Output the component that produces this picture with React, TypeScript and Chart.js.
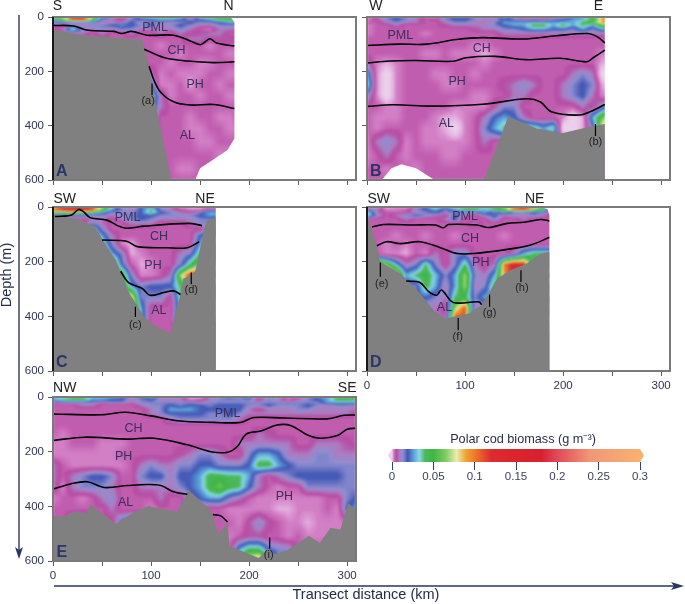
import React, { useEffect, useRef } from "react";
import { Chart, registerables } from "chart.js";
Chart.register(...registerables);

const FONT = '"Liberation Sans", Arial, sans-serif';
const depthRows = [0, 10, 20, 30, 45, 60, 80, 105, 135, 170, 210, 250, 290, 330, 370, 410, 460, 510, 560, 600];
const kmEvery10 = (n: number) => Array.from({ length: n }, (_, i) => i * 10);

// biomass in mg m-3, one row per depth, one column per 10 km
const fieldA = [
  [60,70,130,130,70,30,14,4,14,27,40,45,45,40,4,40,45,60,60,60],
  [27,60,100,110,60,14,9,4,14,20,20,27,27,20,14,20,27,40,45,45],
  [14,20,14,14,14,9,9,9,20,9,14,14,9,14,20,14,14,20,27,27],
  [9,4,9,9,14,14,20,27,20,14,20,9,14,20,14,9,9,14,14,14],
  [4,9,40,14,9,14,9,14,14,9,9,9,9,14,9,4,2,9,9,9],
  [4,4,9,9,4,9,4,4,9,4,4,9,4,9,4,6,9,9,4,4],
  [4,4,4,4,4,4,4,4,4,4,4,4,4,4,9,9,6,6,6,4],
  [4,4,4,4,4,4,4,4,4,4,4,2,4,4,4,4,2,4,4,4],
  [4,4,4,4,4,4,4,4,4,4,4,4,4,2,4,4,4,4,2,2],
  [4,4,4,4,4,4,4,4,4,4,4,4,2,4,4,2,2,4,4,4],
  [4,4,4,4,4,4,4,4,4,14,9,2,4,2,2,2,4,4,2,2],
  [4,4,4,4,4,4,4,4,4,120,20,2,2,4,1,4,4,2,4,4],
  [4,4,4,4,4,4,4,4,4,90,40,9,2,4,4,2,4,4,2,2],
  [4,4,4,4,4,4,4,4,4,40,27,9,4,4,4,4,4,4,4,4],
  [4,4,4,4,4,4,4,4,4,20,20,4,4,4,2,4,4,2,2,4],
  [4,4,4,4,4,4,4,4,4,14,9,4,4,4,2,2,4,4,2,2],
  [4,4,4,4,4,4,4,4,4,9,9,4,4,4,4,2,2,4,4,4],
  [4,4,4,4,4,4,4,4,4,9,4,4,4,4,4,4,4,2,2,2],
  [4,4,4,4,4,4,4,4,4,4,4,4,4,2,2,4,4,4,4,4],
  [4,4,4,4,4,4,4,4,4,4,4,4,4,4,4,4,4,4,4,4],
];
const fieldB = [
  [2,6,14,20,14,9,4,2,14,20,20,14,9,14,27,14,1,1,2,9,9,20,27,60,90,90],
  [2,6,14,20,14,9,4,6,14,20,20,14,9,9,20,14,9,14,9,14,20,27,27,40,90,90],
  [4,4,9,14,9,9,4,4,9,14,14,9,9,14,27,27,27,27,27,27,27,27,40,60,90,90],
  [2,4,4,9,4,4,4,4,6,9,9,9,9,14,20,27,27,45,45,27,45,27,40,27,60,60],
  [2,4,4,4,4,4,4,4,4,4,4,6,9,9,14,14,20,27,27,20,20,14,27,14,27,27],
  [2,4,4,4,4,4,2,4,4,4,4,4,4,4,9,9,9,9,9,9,9,9,9,9,9,9],
  [4,4,4,4,4,4,4,4,4,4,4,4,4,4,4,4,4,4,4,4,4,4,4,4,4,4],
  [4,4,4,4,4,4,4,4,4,4,4,2,2,4,4,4,4,4,4,4,4,4,4,4,4,4],
  [4,4,4,4,4,4,2,2,4,2,2,2,1,2,4,4,4,4,4,4,4,4,4,4,2,2],
  [9,2,1,2,4,4,4,4,4,4,4,4,2,4,4,4,4,4,4,4,4,4,4,4,1,1],
  [27,2,0,2,4,4,4,2,2,4,4,2,4,4,4,4,4,4,4,4,4,9,14,9,0,0],
  [40,2,0,2,4,4,4,4,2,2,4,4,4,4,6,9,14,9,4,4,9,14,20,14,1,1],
  [14,2,0,2,4,4,4,4,4,4,4,2,2,4,4,9,9,4,4,4,9,14,20,9,2,2],
  [4,4,2,2,4,4,4,4,4,2,2,2,2,6,14,14,4,4,4,4,4,4,9,4,14,27],
  [4,2,2,2,4,4,4,2,1,1,2,4,9,20,27,20,9,4,4,4,2,0,1,27,60,90],
  [4,2,4,4,4,4,2,2,1,0,2,4,14,27,40,40,40,40,27,40,0,0,1,14,90,90],
  [2,9,14,9,2,4,2,2,2,2,2,4,9,4,4,4,4,4,4,4,4,4,4,4,4,4],
  [2,4,9,4,2,4,4,4,2,2,4,4,4,4,4,4,4,4,4,4,4,4,4,4,4,4],
  [4,4,2,4,4,2,4,4,4,4,4,4,4,4,4,4,4,4,4,4,4,4,4,4,4,4],
  [4,4,4,4,4,4,4,4,4,4,4,4,4,4,4,4,4,4,4,4,4,4,4,4,4,4],
];
const fieldC = [
  [90,120,130,130,120,70,30,14,9,20,20,14,9,2,1,1,2,2],
  [100,120,125,125,110,60,27,14,9,20,40,14,9,4,2,2,9,9],
  [60,60,70,60,50,27,14,14,14,20,40,20,14,9,6,14,27,27],
  [20,20,20,20,14,14,9,14,14,20,20,14,14,14,14,20,27,27],
  [4,4,4,4,9,9,4,9,14,20,14,9,9,9,9,14,14,14],
  [4,4,4,4,14,9,4,4,9,9,9,4,4,4,9,14,14,14],
  [4,4,4,4,40,14,4,4,4,4,4,4,4,4,4,4,14,14],
  [4,4,4,4,40,27,9,4,4,4,4,4,4,4,4,20,27,27],
  [60,60,60,60,60,40,14,2,1,4,4,4,4,4,4,27,40,40],
  [60,60,60,60,60,60,27,14,1,2,4,4,4,9,14,40,40,40],
  [70,70,70,70,70,70,70,20,4,1,2,4,4,14,40,70,70,70],
  [70,70,70,70,70,70,70,60,14,2,2,4,9,70,120,120,100,100],
  [60,60,60,60,60,60,60,60,27,14,20,20,20,40,60,60,60,60],
  [90,90,90,90,90,90,90,90,90,14,14,14,4,40,40,40,40,40],
  [100,100,100,100,100,100,100,100,100,27,4,4,4,30,30,30,30,30],
  [27,27,27,27,27,27,27,27,27,27,4,4,4,40,40,40,40,40],
  [4,4,4,4,4,4,4,4,4,4,4,4,4,4,4,4,4,4],
  [4,4,4,4,4,4,4,4,4,4,4,4,4,4,4,4,4,4],
  [4,4,4,4,4,4,4,4,4,4,4,4,4,4,4,4,4,4],
  [4,4,4,4,4,4,4,4,4,4,4,4,4,4,4,4,4,4],
];
const fieldD = [
  [4,14,1,2,1,9,20,40,27,40,40,45,40,45,60,100,130,110,50,2],
  [14,9,2,2,4,14,20,27,14,27,40,40,27,40,60,100,110,60,40,2],
  [40,9,4,4,4,9,14,20,14,14,14,14,27,14,27,14,14,20,14,4],
  [40,14,4,9,14,20,14,9,4,20,9,4,14,20,9,14,9,14,9,4],
  [4,4,4,4,9,4,4,4,9,20,4,4,4,14,4,4,9,4,4,4],
  [4,4,4,4,4,4,4,4,4,4,4,9,4,4,4,4,4,4,4,4],
  [4,4,4,4,4,4,4,4,4,4,4,4,4,4,4,4,4,4,4,4],
  [4,4,4,2,4,4,2,4,4,2,4,4,4,4,2,4,4,4,4,4],
  [4,4,2,4,2,4,4,4,4,4,4,4,4,4,4,4,4,4,4,4],
  [4,4,2,2,1,4,2,9,4,14,14,4,4,4,4,9,27,40,40,40],
  [4,90,60,27,9,14,40,14,4,14,40,9,4,9,100,130,120,40,40,40],
  [120,120,120,90,27,40,50,30,14,27,70,14,9,27,90,130,120,120,120,120],
  [14,14,14,14,14,14,45,27,9,27,70,9,14,45,45,45,45,45,45,45],
  [20,20,20,20,20,20,20,14,9,40,45,14,27,27,27,27,27,27,27,27],
  [9,9,9,9,9,9,9,9,4,70,110,9,9,9,9,9,9,9,9,9],
  [9,9,9,9,9,9,9,9,9,120,110,1,1,1,1,1,1,1,1,1],
  [4,4,4,4,4,4,4,4,4,4,4,4,4,4,4,4,4,4,4,4],
  [4,4,4,4,4,4,4,4,4,4,4,4,4,4,4,4,4,4,4,4],
  [4,4,4,4,4,4,4,4,4,4,4,4,4,4,4,4,4,4,4,4],
  [4,4,4,4,4,4,4,4,4,4,4,4,4,4,4,4,4,4,4,4],
];
const fieldE = [
  [27,27,40,40,27,27,27,20,14,20,27,14,9,9,1,1,9,14,20,14,27,4,14,14,4,4,14,20,27,40,40,40],
  [27,40,45,45,27,27,20,20,9,14,20,9,9,9,2,4,9,14,14,14,14,4,14,9,2,9,14,20,27,45,45,40],
  [9,14,14,14,14,9,14,14,9,14,14,14,14,14,14,9,14,14,14,14,14,14,14,14,14,14,14,14,27,27,27,27],
  [4,4,4,9,9,4,4,4,4,9,14,14,20,14,20,20,14,20,20,20,14,14,20,14,14,14,20,14,9,14,14,9],
  [4,4,4,4,4,4,4,4,4,4,9,14,27,27,27,20,20,20,20,20,9,4,9,9,9,14,14,9,9,9,9,9],
  [4,4,4,4,4,4,4,4,4,4,9,14,20,20,20,20,14,14,20,14,9,9,9,9,9,9,9,9,9,9,9,4],
  [4,4,4,4,4,4,4,4,4,4,4,4,9,14,14,14,14,14,14,9,4,4,4,4,4,4,4,4,4,4,4,4],
  [4,4,4,4,4,4,4,4,4,4,4,4,4,4,4,4,4,4,4,4,4,4,4,4,4,4,4,4,4,4,4,4],
  [4,2,4,4,4,4,4,4,4,4,4,4,4,4,4,4,4,4,4,4,4,9,6,4,4,4,4,4,4,4,4,4],
  [2,2,4,4,4,2,2,2,4,4,4,4,4,4,4,4,4,4,4,9,9,9,9,9,9,4,4,9,9,9,6,4],
  [2,2,2,2,2,2,2,4,4,4,4,4,4,6,9,14,14,9,4,4,14,27,27,20,9,9,9,14,14,9,9,9],
  [9,4,2,2,2,2,2,2,4,9,14,9,9,14,14,20,20,14,14,14,20,45,45,27,20,14,14,14,14,14,14,14],
  [9,4,9,14,20,20,14,4,4,14,20,20,9,20,20,27,45,45,40,40,27,9,4,9,14,20,20,20,20,20,14,14],
  [9,2,9,14,14,14,9,4,4,9,9,9,9,14,20,27,45,60,45,40,20,9,4,2,4,4,14,14,14,14,14,14],
  [2,4,4,2,4,9,14,4,4,4,4,9,4,4,14,20,27,27,14,9,4,2,2,2,2,2,2,2,4,4,14,20],
  [4,4,4,4,4,4,9,4,4,4,2,4,4,4,4,4,4,4,2,2,2,2,2,1,1,2,2,2,4,2,20,27],
  [4,4,14,20,4,4,4,20,27,14,4,4,4,4,2,4,4,4,4,2,6,14,6,4,2,2,1,2,2,2,2,2],
  [4,4,4,4,4,4,4,4,4,4,4,4,4,4,4,4,4,4,2,4,6,6,4,4,2,4,2,2,2,2,2,2],
  [4,4,4,4,4,4,4,4,4,4,4,4,4,4,4,4,4,4,4,27,45,45,20,14,14,4,4,4,4,4,4,4],
  [4,4,4,4,4,4,4,4,4,4,4,4,4,4,4,4,4,4,4,40,90,110,60,14,14,4,4,4,4,4,4,4],
];

// sea floor (grey) outlines, km / m
const floorA = [[0,46],[31,67],[91,83],[96,147],[106,343],[121,600],[0,600]];
const floorB = [[119,600],[144,367],[173,410],[199,428],[229,402],[242.5,394],[242.5,600]];
const floorC = [[0,27],[28,48],[43,72],[52,127],[64,194],[77,310],[93,402],[106,439],[120,461],[125,384],[130,323],[133,262],[140,250],[145,235],[148,190],[150,150],[155,70],[157,48],[166,42],[166,600],[0,600]];
const floorD = [[0,29],[10,139],[13.6,200],[34,243],[51,304],[68,378],[80,408],[104,390],[117,359],[133,262],[146,231],[163,207],[177,170],[186,164],[186,600],[0,600]];
const floorE = [[0,436],[11,435],[23,418],[34,426],[38,393],[49,422],[64,465],[83,420],[98,398],[102,402],[127,420],[138,340],[161,414],[169,500],[178,457],[180,545],[210,589],[219,555],[226,575],[239,561],[261,508],[272,534],[283,478],[293,485],[301,389],[309.5,414],[309.5,600],[0,600]];
// unsampled (white) outlines
const voidA = [[181,0],[185,18],[185,447],[178,490],[164,524],[150,557],[145,600],[310,600],[310,0]];
const voidB1 = [[242.5,0],[242.5,600],[310,600],[310,0]];
const voidB2 = [[15,600],[25,557],[35,542],[50,557],[69,600]];
const voidC = [[166,0],[166,600],[310,600],[310,0]];
const voidD = [[178.5,0],[184,8],[186,29],[186,600],[310,600],[310,0]];

// water-mass boundaries
const linesA = [
  [[0,31],[21,33],[36,49],[62,53],[70,61],[80,53],[96,67],[123,67],[140,88],[150,102],[155,92],[160,80],[167,96],[185,107]],
  [[93,119],[113,149],[137,162],[164,168],[185,165]],
  [[98,181],[103,233],[110,278],[123,312],[140,324],[164,322],[185,337]],
];
const linesB = [
  [[0,105],[33,100],[61,100],[91,83],[118,76],[159,81],[193,69],[225,61],[235,73],[242.5,95]],
  [[0,169],[23,162],[50,160],[88,163],[101,150],[131,145],[162,157],[197,152],[224,165],[231,149],[242.5,122]],
  [[0,329],[27,323],[67,328],[118,321],[163,301],[177,313],[188,349],[217,361],[231,343],[242.5,322]],
];
const linesC = [
  [[2,35],[19,29],[26,9],[31,17],[38,39],[55,48],[67,70],[75,78],[93,70],[138,60],[152,68]],
  [[50,121],[75,125],[86,145],[116,149],[137,149],[149,127]],
  [[69,235],[77,277],[91,298],[99,323],[113,313],[123,307],[130,320]],
];
const linesD = [
  [[5,73],[17,64],[48,66],[70,66],[78,76],[83,64],[112,66],[124,75],[143,60],[160,56],[177,46],[186,51]],
  [[10,142],[20,127],[34,134],[54,127],[75,149],[92,170],[109,170],[143,155],[167,139],[186,111]],
  [[40,271],[54,276],[63,310],[71,323],[76,304],[88,349],[114,347],[117,357]],
];
const linesE = [
  [[0,62],[49,65],[74,56],[100,69],[127,87],[164,93],[191,93],[205,75],[236,77],[280,80],[297,67],[309.5,66]],
  [[0,159],[32,147],[76,154],[103,151],[137,175],[161,200],[178,202],[188,181],[197,136],[212,124],[229,102],[243,105],[259,138],[273,151],[290,141],[300,118],[309.5,114]],
  [[0,337],[18,318],[35,310],[52,331],[76,324],[96,320],[110,324],[123,347],[137,356]],
  [[163,430],[171,435],[178,457]],
];
// leaders of the (a)...(i) notes
const leadersA = [[[101,245],[101,288]]];
const leadersB = [[[233,394],[233,438]]];
const leadersC = [[[84,365],[84,402]],[[141,240],[141,283]]];
const leadersD = [[[13.6,203],[13.6,255]],[[93,406],[93,451]],[[125,320],[125,365]],[[157,231],[157,274]]];
const leadersE = [[[221,514],[221,555]]];

type Txt = [string, number, number];
const massA: Txt[] = [["PML",104,40],["CH",126,122],["PH",145,247],["AL",137,435]];
const massB: Txt[] = [["PML",34,69],["CH",117,116],["PH",92,239],["AL",81,392]];
const massC: Txt[] = [["PML",76,38],["CH",108,109],["PH",102,213],["AL",108,378]];
const massD: Txt[] = [["PML",100,35],["CH",105,115],["PH",116,203],["AL",79,368]];
const massE: Txt[] = [["PML",178,59],["CH",82,116],["PH",72,218],["AL",74,386],["PH",236,365]];
const notesA: Txt[] = [["(a)",97,309]];
const notesB: Txt[] = [["(b)",233,460]];
const notesC: Txt[] = [["(c)",84,430],["(d)",141,305]];
const notesD: Txt[] = [["(e)",15,282],["(f)",92.5,475],["(g)",125,386],["(h)",158,298]];
const notesE: Txt[] = [["(i)",220,577]];

const legendTicks = [0, 0.05, 0.1, 0.15, 0.2, 0.25, 0.3];
const colourStops: [number, string][] = [
  [0,"#ecd0ea"],[1,"#e2aede"],[2,"#d27fc6"],[5,"#b84ca4"],[7,"#b25cac"],[9,"#ac7cc2"],[13,"#8e8ed0"],[19,"#4256b6"],
  [26,"#5aa0d8"],[33,"#88d8e4"],[40,"#4cb85c"],[50,"#3fb544"],[65,"#80cc60"],[78,"#e8eeb0"],[90,"#f0a030"],
  [100,"#ee7a2a"],[120,"#dd2a30"],[180,"#d91f2c"],[200,"#e04a5a"],[240,"#f09878"],[300,"#fab070"],
];

const hex = (s: string) => [1, 3, 5].map((i) => parseInt(s.slice(i, i + 2), 16));
function colourAt(v: number) {
  const s = colourStops;
  if (v <= s[0][0]) return hex(s[0][1]);
  for (let i = 1; i < s.length; i++) {
    if (v <= s[i][0]) {
      const t = (v - s[i - 1][0]) / (s[i][0] - s[i - 1][0]);
      const a = hex(s[i - 1][1]), b = hex(s[i][1]);
      return a.map((c, k) => c + (b[k] - c) * t);
    }
  }
  return hex(s[s.length - 1][1]);
}
const lut: number[][] = [];
for (let i = 0; i <= 1200; i++) lut.push(colourAt(i / 4));

function locate(axis: number[], v: number): [number, number] {
  if (v <= axis[0]) return [0, 0];
  for (let i = 0; i < axis.length - 1; i++) {
    if (v < axis[i + 1]) return [i, (v - axis[i]) / (axis[i + 1] - axis[i])];
  }
  return [axis.length - 2, 1];
}

function poly(ctx: any, sx: any, sy: any, pts: number[][], colour: string) {
  ctx.beginPath();
  pts.forEach(([x, y], i) => {
    const px = sx.getPixelForValue(x), py = sy.getPixelForValue(y);
    if (i) ctx.lineTo(px, py); else ctx.moveTo(px, py);
  });
  ctx.closePath();
  ctx.fillStyle = colour;
  ctx.fill();
}

interface P {
  field: number[][]; floor: number[][]; voids: number[][][]; lines: number[][][]; leaders: number[][][];
  mass: Txt[]; notes: Txt[]; letter: string; dirs: Txt[];
  x: number; y: number; w: number; h: number; l: number; t: number; r: number; b: number;
  xLabels: boolean; yLabels: boolean; yBorder: string;
}

function Panel(p: P) {
  const ref = useRef<HTMLCanvasElement>(null);
  useEffect(() => {
    const kms = kmEvery10(p.field[0].length);
    const roots = p.field.map((row) => row.map(Math.sqrt));
    const plugin = {
      id: "section",
      beforeDatasetsDraw(chart: any) {
        const { ctx, chartArea: a, scales } = chart;
        const sx = scales.x, sy = scales.y;
        const W = Math.ceil(a.right - a.left), H = Math.ceil(a.bottom - a.top);
        const off = document.createElement("canvas");
        off.width = W; off.height = H;
        const oc = off.getContext("2d")!;
        const img = oc.createImageData(W, H);
        for (let j = 0; j < H; j++) {
          const [r, tr] = locate(depthRows, sy.getValueForPixel(a.top + j + 0.5));
          for (let i = 0; i < W; i++) {
            const [c, tc] = locate(kms, sx.getValueForPixel(a.left + i + 0.5));
            const r0 = roots[r], r1 = roots[r + 1];
            const top = r0[c] * (1 - tc) + r0[c + 1] * tc;
            const bot = r1[c] * (1 - tc) + r1[c + 1] * tc;
            const q = top * (1 - tr) + bot * tr;
            const col = lut[Math.min(1200, Math.round(q * q * 4))];
            const o = (j * W + i) * 4;
            img.data[o] = col[0]; img.data[o + 1] = col[1]; img.data[o + 2] = col[2]; img.data[o + 3] = 255;
          }
        }
        oc.putImageData(img, 0, 0);
        ctx.save();
        ctx.beginPath();
        ctx.rect(a.left, a.top, a.right - a.left, a.bottom - a.top);
        ctx.clip();
        ctx.filter = "blur(0.8px)";
        ctx.drawImage(off, a.left, a.top);
        ctx.filter = "none";
        p.voids.forEach((v) => poly(ctx, sx, sy, v, "#ffffff"));
        poly(ctx, sx, sy, p.floor, "#808080");
        ctx.restore();
      },
      afterDatasetsDraw(chart: any) {
        const { ctx, scales } = chart;
        const sx = scales.x, sy = scales.y;
        ctx.save();
        ctx.textAlign = "center";
        ctx.textBaseline = "middle";
        ctx.fillStyle = "#3a2f5c";
        ctx.font = `12.5px ${FONT}`;
        p.mass.forEach(([s, x, y]) => ctx.fillText(s, sx.getPixelForValue(x), sy.getPixelForValue(y)));
        ctx.fillStyle = "#222222";
        ctx.font = `11px ${FONT}`;
        p.notes.forEach(([s, x, y]) => ctx.fillText(s, sx.getPixelForValue(x), sy.getPixelForValue(y)));
        ctx.fillStyle = "#222222";
        ctx.font = `14px ${FONT}`;
        p.dirs.forEach(([s, x, y]) => ctx.fillText(s, sx.getPixelForValue(x), sy.getPixelForValue(y)));
        ctx.fillStyle = "#2b3566";
        ctx.font = `bold 16px ${FONT}`;
        ctx.fillText(p.letter, sx.getPixelForValue(9), sy.getPixelForValue(568));
        ctx.restore();
      },
      afterDraw(chart: any) {
        const { ctx, chartArea: a } = chart;
        ctx.save();
        ctx.strokeStyle = "#7a7a7a";
        ctx.lineWidth = 2;
        ctx.strokeRect(a.left, a.top, a.right - a.left, a.bottom - a.top);
        ctx.strokeStyle = p.yBorder;
        ctx.lineWidth = 1.6;
        ctx.beginPath();
        ctx.moveTo(a.left, a.top);
        ctx.lineTo(a.left, a.bottom);
        ctx.stroke();
        ctx.restore();
      },
    };
    const toSet = (pts: number[][], width: number, tension: number) => ({
      data: pts.map(([x, y]) => ({ x, y })),
      showLine: true, borderColor: "#000000", borderWidth: width, pointRadius: 0, tension, fill: false,
    });
    const tickFont = { family: FONT, size: 11.5 };
    const chart = new Chart(ref.current!, {
      type: "scatter",
      data: {
        datasets: [
          ...p.lines.map((l) => toSet(l, 1.6, 0.35)),
          ...p.leaders.map((l) => toSet(l, 1.2, 0)),
        ],
      } as any,
      plugins: [plugin as any],
      options: {
        animation: false, responsive: false, devicePixelRatio: 1,
        layout: { padding: { left: 0, top: p.t, right: p.w - p.r, bottom: 0 } },
        plugins: { legend: { display: false }, tooltip: { enabled: false } },
        scales: {
          x: {
            type: "linear", min: 0, max: 309,
            afterFit: (s: any) => { s.height = p.h - p.b; },
            grid: { drawOnChartArea: false, drawTicks: true, tickLength: 5, tickColor: "#5a5a6a" },
            border: { display: false },
            ticks: {
              stepSize: 50, autoSkip: false, maxRotation: 0, includeBounds: false, padding: 3,
              color: "#2f3550", font: tickFont,
              callback: (v: any) => (p.xLabels && v % 100 === 0 ? String(v) : ""),
            },
          },
          y: {
            type: "linear", min: 0, max: 600, reverse: true,
            afterFit: (s: any) => { s.width = p.l; },
            grid: { drawOnChartArea: false, drawTicks: true, tickLength: 5, tickColor: "#5a5a6a" },
            border: { display: false },
            ticks: {
              stepSize: 200, autoSkip: false, padding: 4, color: "#2f3550", font: tickFont,
              callback: (v: any) => (p.yLabels ? String(v) : ""),
            },
          },
        },
      } as any,
    });
    return () => chart.destroy();
  }, []);
  return (
    <canvas ref={ref} width={p.w} height={p.h}
      style={{ position: "absolute", left: p.x, top: p.y, width: p.w, height: p.h, display: "block" }} />
  );
}

function ColourBar() {
  const ref = useRef<HTMLCanvasElement>(null);
  useEffect(() => {
    const plugin = {
      id: "bar",
      beforeDatasetsDraw(chart: any) {
        const { ctx, chartArea: a, scales } = chart;
        const cap = (x0: number, x1: number, v: number) => {
          const c = colourAt(v);
          ctx.fillStyle = `rgb(${c[0]},${c[1]},${c[2]})`;
          ctx.beginPath();
          ctx.moveTo(x0, a.top);
          ctx.lineTo(x1, (a.top + a.bottom) / 2);
          ctx.lineTo(x0, a.bottom);
          ctx.closePath();
          ctx.fill();
        };
        cap(a.left, a.left - 4, 0);
        cap(a.right, a.right + 4, 300);
        for (let x = Math.floor(a.left); x < a.right; x++) {
          const c = colourAt(scales.x.getValueForPixel(x + 0.5) * 1000);
          ctx.fillStyle = `rgb(${c[0]},${c[1]},${c[2]})`;
          ctx.fillRect(x, a.top, 1, a.bottom - a.top);
        }
        ctx.fillStyle = "#2a2f48";
        ctx.font = `12.7px ${FONT}`;
        ctx.textAlign = "center";
        ctx.textBaseline = "middle";
        ctx.fillText("Polar cod biomass (g m⁻³)", (a.left + a.right) / 2 + 7, a.top - 10);
      },
    };
    const chart = new Chart(ref.current!, {
      type: "scatter",
      data: { datasets: [{ data: legendTicks.map((x) => ({ x, y: 0 })), pointRadius: 0 }] },
      plugins: [plugin as any],
      options: {
        animation: false, responsive: false, devicePixelRatio: 1,
        layout: { padding: { left: 17, top: 19, right: 25, bottom: 0 } },
        plugins: { legend: { display: false }, tooltip: { enabled: false } },
        scales: {
          y: { display: false, min: 0, max: 1 },
          x: {
            type: "linear", min: 0, max: 0.3,
            afterFit: (s: any) => { s.height = 28; },
            grid: { drawOnChartArea: false, drawTicks: true, tickLength: 8, tickColor: "#3a3f58" },
            border: { display: false },
            ticks: {
              stepSize: 0.05, autoSkip: false, maxRotation: 0, padding: 0, color: "#3a3f58",
              font: { family: FONT, size: 11.5 },
              callback: (v: any) => String(Number(Number(v).toFixed(2))),
            },
          },
        },
      } as any,
    });
    return () => chart.destroy();
  }, []);
  return (
    <canvas ref={ref} width={290} height={60}
      style={{ position: "absolute", left: 375, top: 430, width: 290, height: 60, display: "block" }} />
  );
}

const panels: P[] = [
  { field: fieldA, floor: floorA, voids: [voidA], lines: linesA, leaders: leadersA, mass: massA, notes: notesA, letter: "A",
    dirs: [["S",4.5,-40],["N",179,-40]], x: 0, y: 0, w: 362, h: 192, l: 53, t: 17, r: 356, b: 180, xLabels: false, yLabels: true, yBorder: "#000000" },
  { field: fieldB, floor: floorB, voids: [voidB1, voidB2], lines: linesB, leaders: leadersB, mass: massB, notes: notesB, letter: "B",
    dirs: [["W",9,-40],["E",236,-40]], x: 358, y: 0, w: 327, h: 192, l: 9, t: 17, r: 312, b: 180, xLabels: false, yLabels: false, yBorder: "#7a7a7a" },
  { field: fieldC, floor: floorC, voids: [voidC], lines: linesC, leaders: leadersC, mass: massC, notes: notesC, letter: "C",
    dirs: [["SW",12,-30],["NE",155,-30]], x: 0, y: 190, w: 362, h: 200, l: 53, t: 17, r: 356, b: 181, xLabels: false, yLabels: true, yBorder: "#000000" },
  { field: fieldD, floor: floorD, voids: [voidD], lines: linesD, leaders: leadersD, mass: massD, notes: notesD, letter: "D",
    dirs: [["SW",12,-30],["NE",171,-30]], x: 358, y: 190, w: 327, h: 200, l: 9, t: 17, r: 312, b: 181, xLabels: true, yLabels: false, yBorder: "#000000" },
  { field: fieldE, floor: floorE, voids: [], lines: linesE, leaders: leadersE, mass: massE, notes: notesE, letter: "E",
    dirs: [["NW",12,-33],["SE",300,-33]], x: 0, y: 380, w: 368, h: 200, l: 53, t: 17, r: 356, b: 181, xLabels: true, yLabels: true, yBorder: "#7a7a7a" },
];

export default function App() {
  const navy = "#2a3560";
  return (
    <div style={{ position: "absolute", left: 0, top: 0, width: 685, height: 604, background: "#fff", overflow: "hidden" }}>
      {panels.map((p) => <Panel key={p.letter} {...p} />)}
      <ColourBar />
      <svg width={685} height={604} style={{ position: "absolute", left: 0, top: 0, pointerEvents: "none" }}>
        <line x1={19} y1={15} x2={19} y2={550} stroke={navy} strokeWidth={1.4} />
        <polygon points="15,547 19,559 23,547 19,550" fill={navy} />
        <line x1={54} y1={586} x2={674} y2={586} stroke={navy} strokeWidth={1.4} />
        <polygon points="671,582 684,586 671,590 674,586" fill={navy} />
        <text x={7} y={275} transform="rotate(-90 7 275)" textAnchor="middle" dominantBaseline="middle"
          style={{ font: `14.5px ${FONT}`, fill: "#222b4a" }}>Depth (m)</text>
        <text x={366} y={595} textAnchor="middle" dominantBaseline="middle"
          style={{ font: `14.5px ${FONT}`, fill: "#222b4a" }}>Transect distance (km)</text>
      </svg>
    </div>
  );
}
